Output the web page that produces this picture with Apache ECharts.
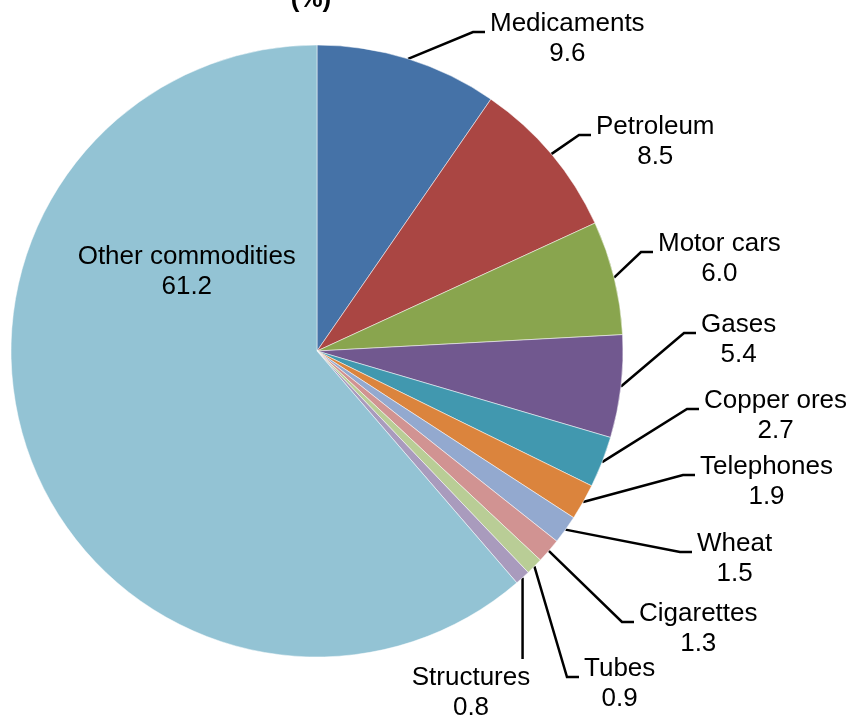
<!DOCTYPE html>
<html>
<head>
<meta charset="utf-8">
<title>Export commodities (%)</title>
<script src="https://cdn.jsdelivr.net/npm/echarts@6/dist/echarts.min.js"></script>
<style>
    html, body { margin: 0; padding: 0; background: #fff; }
    #main { width: 851px; height: 721px; }
</style>
</head>
<body>
<div id="main"></div>
<script>
// data
var categories = ['Medicaments', 'Petroleum', 'Motor cars', 'Gases', 'Copper ores',
    'Telephones', 'Wheat', 'Cigarettes', 'Tubes', 'Structures', 'Other commodities'];
var shares = [9.6, 8.5, 6.0, 5.4, 2.7, 1.9, 1.5, 1.3, 0.9, 0.8, 61.2];
var sliceColors = ['#4572A7', '#AA4643', '#89A54E', '#71588F', '#4198AF',
    '#DB843D', '#93A9CF', '#D19392', '#B9CD96', '#A99BBD', '#93C3D4'];

// where the outside labels sit (left edge of text block, middle of block), like the Excel layout
var labelSpots = {
    'Medicaments': [490, 39],
    'Petroleum': [596, 142],
    'Motor cars': [658, 259],
    'Gases': [701, 340],
    'Copper ores': [704, 416],
    'Telephones': [700, 482],
    'Wheat': [697, 559],
    'Cigarettes': [639, 629],
    'Tubes': [584, 684],
    'Structures': [471, 693]   // this one is centred under its line
};

var myChart = echarts.init(document.getElementById('main'));

var pieData = categories.map(function (name, i) {
    var item = { name: name, value: shares[i], itemStyle: { color: sliceColors[i] } };
    if (name === 'Other commodities') {
        item.label = { position: 'inside', offset: [16, -134] };
        item.labelLine = { show: false };
    }
    return item;
});

function placeLabel(params) {
    var name = categories[params.dataIndex];
    var spot = labelSpots[name];
    if (!spot || !params.labelLinePoints) {
        return {};
    }
    var a = params.labelLinePoints[0];
    var h = params.labelRect.height;
    if (name === 'Structures') {
        var endY = spot[1] - h / 2 - 4;
        return {
            x: spot[0], y: spot[1], align: 'center', verticalAlign: 'middle',
            labelLinePoints: [[a[0], a[1]], [a[0], (a[1] + endY) / 2], [a[0], endY]]
        };
    }
    var lineY = spot[1] - 7;
    return {
        x: spot[0], y: spot[1], align: 'left', verticalAlign: 'middle',
        labelLinePoints: [[a[0], a[1]], [spot[0] - 17, lineY], [spot[0] - 5, lineY]]
    };
}

var option = {
    animation: false,
    textStyle: { fontFamily: 'Liberation Sans, Arial, sans-serif' },
    title: {
        text: '(%)',
        left: 306,
        top: -18,
        textAlign: 'center',
        textStyle: { fontSize: 26, fontWeight: 'bold', color: '#000' }
    },
    series: [{
        type: 'pie',
        center: [317, 351],
        radius: 306,
        startAngle: 90,
        clockwise: true,
        minShowLabelAngle: 0,
        data: pieData,
        itemStyle: { borderColor: '#fff', borderWidth: 0.5 },
        label: {
            show: true,
            position: 'outside',
            formatter: function (p) {
                return '{t|' + p.name + '}\n{t|' + p.value.toFixed(1) + '}';
            },
            color: '#000',
            fontSize: 26,
            lineHeight: 30,
            rich: { t: { fontSize: 26, lineHeight: 30, align: 'center', color: '#000' } }
        },
        labelLine: {
            show: true,
            length: 25,
            length2: 15,
            lineStyle: { color: '#000', width: 2.5 }
        },
        labelLayout: placeLabel
    }]
};
myChart.setOption(option);
</script>
</body>
</html>
